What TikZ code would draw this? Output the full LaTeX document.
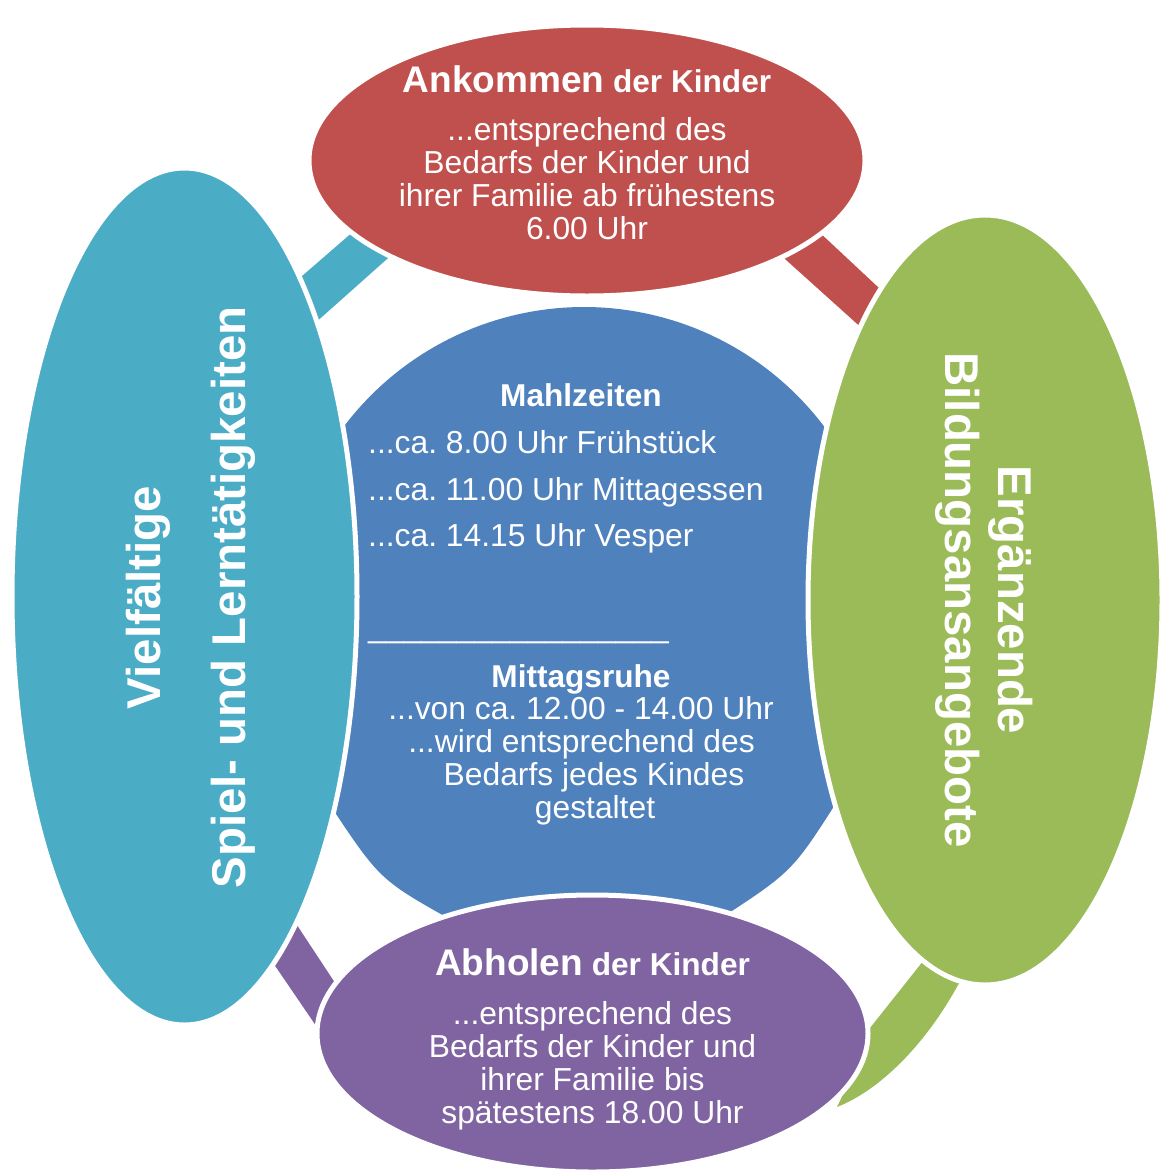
\documentclass[tikz,border=0pt]{standalone}
\usepackage{fontspec}
\setmainfont{Liberation Sans}
\usetikzlibrary{shapes.geometric}
\definecolor{cRed}{HTML}{C0504D}
\definecolor{cGreen}{HTML}{9BBB59}
\definecolor{cPurple}{HTML}{8064A2}
\definecolor{cTeal}{HTML}{4BACC6}
\definecolor{cBlue}{HTML}{4F81BD}
\frenchspacing
\begin{document}
\begin{tikzpicture}[x=1pt,y=-1pt,
  blob/.style={ellipse, draw=white, line width=5pt, inner sep=0pt},
  txt/.style={text=white, inner sep=0pt, anchor=base, font=\fontsize{31.8}{33}\selectfont},
  hd/.style={txt, font=\fontsize{31.6}{33}\selectfont\bfseries},
  rot/.style={text=white, inner sep=0pt, anchor=base, font=\fontsize{47.4}{50}\selectfont\bfseries}
]
\useasboundingbox (0,0) rectangle (1160,1173);

% central shape
\fill[cBlue] (584,608) ++(215:301) arc[start angle=215, end angle=326, radius=301]
  -- (838,800) .. controls (792,872) .. (715,922)
  -- (455,922) .. controls (380,880) .. (330,805) -- cycle;

% connecting bands
\fill[cTeal] (286,290) -- (370,217) -- (405,243) -- (305,332) -- cycle;
\fill[cRed] (802,216) -- (895,303) -- (875,340) -- (765,241) -- cycle;
\fill[cPurple] (287,910) -- (345,998) -- (325,1039) -- (265,951) -- cycle;
\fill[cGreen] (932,950) -- (970,968) -- (958,985)
  .. controls (925,1045) and (880,1090) .. (837,1107)
  -- (850,1080) -- (866,1033) -- (920,965) -- cycle;

% ellipses
\node[blob, fill=cRed, minimum width=556pt, minimum height=271pt] (red) at (587,160.5) {};
\node[blob, fill=cGreen, minimum width=354pt, minimum height=770pt] (green) at (985,600) {};
\node[blob, fill=cPurple, minimum width=551pt, minimum height=277pt] (purple) at (592.5,1033.5) {};
\node[blob, fill=cTeal, minimum width=345pt, minimum height=857pt] (teal) at (184.5,596.5) {};

% red texts
\node[hd] (rt) at (587,92) {{\fontsize{37}{40}\selectfont Ankommen} der Kinder};
\node[txt] (r1) at (587,140) {...entsprechend des};
\node[txt] (r2) at (587,173) {Bedarfs der Kinder und};
\node[txt] (r3) at (587,206) {ihrer Familie ab frühestens};
\node[txt] (r4) at (587,239) {6.00 Uhr};

% centre texts
\node[hd] (m0) at (581,406) {Mahlzeiten};
\node[txt, anchor=base west] (m1) at (368,453) {...ca. 8.00 Uhr Frühstück};
\node[txt, anchor=base west] (m2) at (368,500) {...ca. 11.00 Uhr Mittagessen};
\node[txt, anchor=base west] (m3) at (368,546) {...ca. 14.15 Uhr Vesper};
\node[txt, anchor=base west] (m4) at (368,637) {\_\_\_\_\_\_\_\_\_\_\_\_\_\_\_\_\_};
\node[hd] (m5) at (581,687) {Mittagsruhe};
\node[txt] (m6) at (581,719) {...von ca. 12.00 - 14.00 Uhr};
\node[txt] (m7) at (581.5,752) {...wird entsprechend des};
\node[txt] (m8) at (594,785) {Bedarfs jedes Kindes};
\node[txt] (m9) at (595,818) {gestaltet};

% purple texts
\node[hd] (pt) at (592.5,975) {{\fontsize{37}{40}\selectfont Abholen} der Kinder};
\node[txt] (p1) at (592.5,1024) {...entsprechend des};
\node[txt] (p2) at (592.5,1057) {Bedarfs der Kinder und};
\node[txt] (p3) at (592.5,1090) {ihrer Familie bis};
\node[txt] (p4) at (592.5,1123) {spätestens 18.00 Uhr};

% rotated texts
\node[rot, rotate=90] (v1) at (160,597.5) {Vielfältige};
\node[rot, rotate=90] (v2) at (245,597.5) {Spiel- und Lerntätigkeiten};
\node[rot, rotate=-90] (g1) at (998,600) {Ergänzende};
\node[rot, rotate=-90] (g2) at (945,600) {Bildungsansangebote};
\end{tikzpicture}
\end{document}
